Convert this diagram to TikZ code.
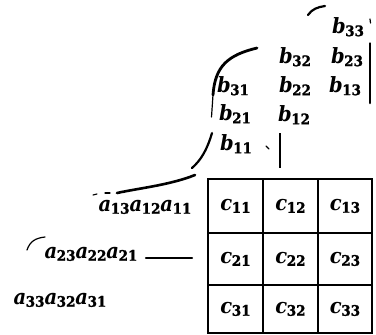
\documentclass[tikz,border=0pt]{standalone}
\usepackage{fontspec}
\newfontfamily\hvit{DejaVu Serif}[UprightFont={* Bold Italic}]
\newfontfamily\hvbf{DejaVu Serif}[UprightFont={* Bold}, UprightFeatures={FakeBold=1.5}]
\newcommand{\elt}[2]{\scalebox{0.93}[1]{{\fontsize{21}{24}\hvit #1}\kern-0.5pt\raisebox{-2.5pt}{\fontsize{14.5}{17}\hvbf #2}}}
\begin{document}
\begin{tikzpicture}[x=1pt,y=-1pt,
  lab/.style={inner sep=0pt},
  gridline/.style={line width=2.6pt},
  stroke/.style={line width=2.2pt, line cap=round},
  thinstroke/.style={line width=1.2pt, line cap=round}]
\fill[white] (0,0) rectangle (376,335);
\useasboundingbox (0,0) rectangle (376,335);
% grid
\draw[gridline] (208,179) rectangle (372,333);
\draw[gridline] (263,179) -- (263,333);
\draw[gridline] (318,179) -- (318,333);
\draw[gridline] (208,233) -- (372,233);
\draw[gridline] (208,285) -- (372,285);
% c cells
\node[lab] (c11) at (235.5,206) {\elt{c}{11}};
\node[lab] (c12) at (290.5,206) {\elt{c}{12}};
\node[lab] (c13) at (345,206) {\elt{c}{13}};
\node[lab] (c21) at (235.5,259) {\elt{c}{21}};
\node[lab] (c22) at (290.5,259) {\elt{c}{22}};
\node[lab] (c23) at (345,259) {\elt{c}{23}};
\node[lab] (c31) at (235.5,309) {\elt{c}{31}};
\node[lab] (c32) at (290.5,309) {\elt{c}{32}};
\node[lab] (c33) at (345,309) {\elt{c}{33}};
% b elements
\node[lab] (b33) at (348,27) {\elt{b}{33}};
\node[lab] (b32) at (295,57) {\elt{b}{32}};
\node[lab] (b23) at (347,57) {\elt{b}{23}};
\node[lab] (b31) at (233,86) {\elt{b}{31}};
\node[lab] (b22) at (295,86) {\elt{b}{22}};
\node[lab] (b13) at (345,86) {\elt{b}{13}};
\node[lab] (b21) at (235,114) {\elt{b}{21}};
\node[lab] (b12) at (294,115) {\elt{b}{12}};
\node[lab] (b11) at (236,144) {\elt{b}{11}};
% a elements
\node[lab] (a1) at (145,207) {\elt{a}{13}\elt{a}{12}\elt{a}{11}};
\node[lab] (a2) at (91,254) {\elt{a}{23}\elt{a}{22}\elt{a}{21}};
\node[lab] (a3) at (60,300) {\elt{a}{33}\elt{a}{32}\elt{a}{31}};
% connectors
\coordinate (vtop) at (280,133);
\coordinate (vbot) at (280,168);
\draw[line width=2.4pt] (vtop) -- (vbot);
\coordinate (dl) at (146,258);
\coordinate (dr) at (192,258);
\draw[line width=2.4pt, line cap=round] (dl) -- (dr);
% bracket strokes
\draw[stroke, line width=2.8pt] (257,48) .. controls (228,55) and (215,66) .. (213,95);
\draw[thinstroke] (213,95) -- (211.5,117);
\draw[stroke] (212,133) .. controls (207,150) and (201,160) .. (192,168);
\draw[stroke, line width=2.6pt] (195,175) .. controls (170,185) and (140,188) .. (117,193);
\draw[thinstroke] (110,193) -- (105,193);
\draw[thinstroke] (97,194) -- (93,195);
\draw[stroke] (308,15) .. controls (312,9) and (318,7) .. (325,6);
\draw[thinstroke] (370,43) -- (370,80);
\draw[stroke, line width=2.6pt] (370,80) -- (370,103);
\draw[thinstroke] (370,19) -- (370.5,23);
\draw[thinstroke] (27,250) .. controls (30,241) and (36,238) .. (45,237);
\draw[thinstroke] (266,146) -- (269,149);
\end{tikzpicture}
\end{document}
